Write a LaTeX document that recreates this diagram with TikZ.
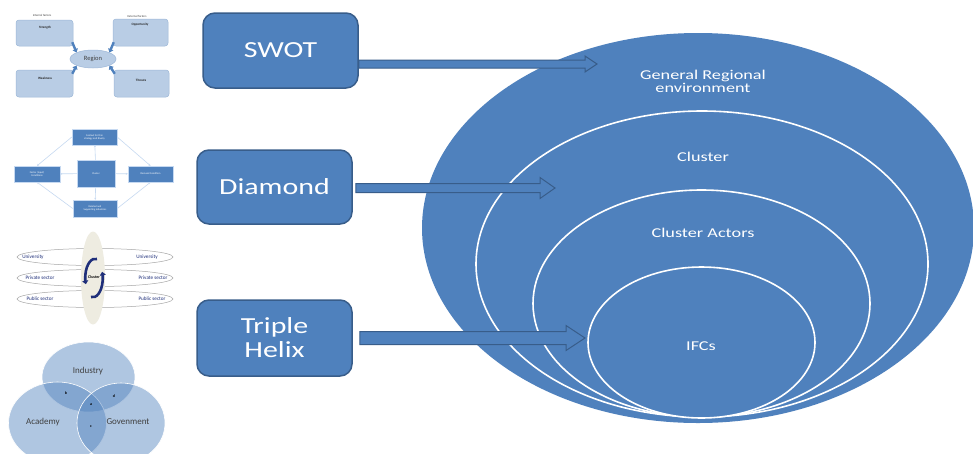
\documentclass[tikz,border=0pt]{standalone}
\usepackage{fontspec}
\setmainfont{Carlito}
\usetikzlibrary{calc,arrows.meta,shapes.geometric}

\definecolor{accent}{HTML}{4F81BD}
\definecolor{accentdark}{HTML}{385D8A}
\definecolor{paleblue}{HTML}{B9CDE5}
\definecolor{paleedge}{HTML}{9DB7D8}
\definecolor{lightline}{HTML}{C6D9F1}
\definecolor{beige}{HTML}{EEECE1}
\definecolor{navy}{HTML}{1F2F7A}
\definecolor{inkgray}{HTML}{404040}

% horizontally widened text
\newcommand\wide[1]{\scalebox{1.3}[1]{#1}}
\newcommand\widerr[1]{\scalebox{1.35}[1]{#1}}

% block arrow: from, tip, shaft half-width, head half-width, head length
\newcommand\blockarrow[5]{%
  \draw[blockarr] ($(#1)+(0,-#3)$) -- ($(#2)+(-#5,-#3)$) -- ($(#2)+(-#5,-#4)$)
    -- (#2) -- ($(#2)+(-#5,#4)$) -- ($(#2)+(-#5,#3)$) -- ($(#1)+(0,#3)$) -- cycle;}

\tikzset{
  toolbox/.style={draw=accentdark, line width=1.5pt, fill=accent, rounded corners=12pt,
    text=white, inner sep=0pt, align=center, font=\fontsize{23}{25}\selectfont},
  outerring/.style={ellipse, fill=accent, inner sep=0pt},
  ring/.style={ellipse, draw=white, line width=1.6pt, fill=accent, inner sep=0pt},
  ringlabel/.style={text=white, align=center, inner sep=0pt, font=\fontsize{13.5}{13}\selectfont},
  blockarr/.style={fill=accent, draw=accentdark, line width=1pt, line join=miter},
  % thumbnails
  tiny/.style={inner sep=0pt, font=\fontsize{3}{3.5}\selectfont},
  swotbox/.style={draw=paleedge, line width=0.5pt, fill=paleblue, rounded corners=3pt, inner sep=0pt},
  swotlabel/.style={inner sep=0pt, text=black!85, font=\fontsize{3.3}{4}\selectfont\bfseries},
  swotarr/.style={draw=accent, line width=2.4pt, -{Triangle[length=3.5pt,width=5.5pt]}},
  dbox/.style={draw=lightline, line width=0.4pt, fill=accent, inner sep=0.5pt, text=white,
    align=center, font=\fontsize{2.6}{3}\selectfont},
  dlink/.style={draw=lightline, line width=0.6pt, -{Stealth[length=2pt,width=2pt]}},
  band/.style={ellipse, draw=gray!70, line width=0.5pt, fill=white, inner sep=0pt},
  bandtext/.style={text=navy, inner sep=0pt, font=\fontsize{5.2}{6}\selectfont},
  cyc/.style={draw=navy, line width=2.6pt, -{Triangle[length=3.5pt,width=6pt]}},
  venn/.style={ellipse, fill=accent, fill opacity=0.45, draw=white, line width=0.6pt, inner sep=0pt},
  venntext/.style={text=inkgray, inner sep=0pt, font=\fontsize{9}{10}\selectfont},
  vennmark/.style={text=black, inner sep=0pt, font=\fontsize{4}{4}\selectfont\bfseries},
}

\begin{document}
\begin{tikzpicture}[x=1pt,y=-1pt]
\useasboundingbox[fill=white] (0,0) rectangle (973,453);

% ---------- nested environment rings ----------
\node[outerring, minimum width=552pt, minimum height=390pt] (env) at (698,228) {};
\node[ring, minimum width=452pt, minimum height=306pt] (clu) at (702,264) {};
\node[ring, minimum width=337pt, minimum height=227pt] (act) at (701.5,303.5) {};
\node[ring, minimum width=227pt, minimum height=151pt] (ifc) at (701.5,342.5) {};

\node[ringlabel] (envt) at (703,81) {\widerr{General Regional}\\\widerr{environment}};
\node[ringlabel] (clut) at (703,157) {\widerr{Cluster}};
\node[ringlabel] (actt) at (703,233) {\widerr{Cluster Actors}};
\node[ringlabel] (ifct) at (701,346) {\widerr{IFCs}};

% ---------- analysis tools ----------
\node[toolbox, minimum width=155pt, minimum height=75pt] (swot) at (280.5,50.5) {\wide{SWOT}};
\node[toolbox, minimum width=155pt, minimum height=74pt] (diam) at (274.5,187) {\wide{Diamond}};
\node[toolbox, minimum width=155pt, minimum height=76pt] (helix) at (274.5,338) {\wide{Triple}\\[-1pt]\wide{Helix}};

\coordinate (s1) at ($(swot.east)+(0,13.5)$);
\coordinate (t1) at (597,64);
\coordinate (s2) at ($(diam.east)+(3,1)$);
\coordinate (t2) at (555,188);
\coordinate (s3) at ($(helix.east)+(7,0)$);
\coordinate (t3) at (585,338);
\blockarrow{s1}{t1}{4}{8}{12}
\blockarrow{s2}{t2}{4.5}{10.5}{15}
\blockarrow{s3}{t3}{6.5}{12.5}{19}

% ---------- SWOT thumbnail ----------
\node[tiny, text=inkgray] (intf) at (42,15) {Internal factors};
\node[tiny, text=inkgray] (extf) at (137,16) {External factors};
\node[swotbox, minimum width=57pt, minimum height=26pt] (str) at (44.5,33) {};
\node[swotbox, minimum width=55pt, minimum height=27pt] (opp) at (140.5,32.5) {};
\node[swotbox, minimum width=57pt, minimum height=27pt] (wea) at (44.5,83.5) {};
\node[swotbox, minimum width=55pt, minimum height=27pt] (thr) at (141.5,83.5) {};
\node[swotlabel] (strt) at (45,28) {Strength};
\node[swotlabel] (oppt) at (140,25) {Opportunity};
\node[swotlabel] (weat) at (45,78) {Weakness};
\node[swotlabel] (thrt) at (141,80) {Threats};
\node[ellipse, fill=paleblue, draw=paleedge, line width=0.5pt, inner sep=0pt,
      minimum width=46pt, minimum height=18pt, text=inkgray, font=\fontsize{6.5}{7}\selectfont] (reg) at (93,59) {Region};
\draw[swotarr] ($(str.south east)+(-1,-4)$) -- (reg.north west);
\draw[swotarr] ($(opp.south west)+(1,-4)$) -- (reg.north east);
\draw[swotarr] ($(wea.north east)+(-1,4)$) -- (reg.south west);
\draw[swotarr] ($(thr.north west)+(1,4)$) -- (reg.south east);

% ---------- Diamond thumbnail ----------
\node[dbox, minimum width=45pt, minimum height=16pt] (dtop) at (94.5,137) {Context for firm\\strategy and Rivalry};
\node[dbox, minimum width=46pt, minimum height=16pt] (dleft) at (37,174) {Factor (Input)\\Conditions};
\node[dbox, minimum width=38pt, minimum height=27pt] (dmid) at (96,173.5) {Cluster};
\node[dbox, minimum width=45pt, minimum height=16pt] (dright) at (150.5,174) {Demand Condition};
\node[dbox, minimum width=44pt, minimum height=17pt] (dbot) at (95,208.5) {Related and\\Supporting Industries};
\draw[dlink] (dmid) -- (dtop);
\draw[dlink] (dmid) -- (dleft);
\draw[dlink] (dmid) -- (dright);
\draw[dlink] (dmid) -- (dbot);
\draw[dlink] (dtop.west) -- (dleft.north);
\draw[dlink] (dtop.east) -- (dright.north);
\draw[dlink] (dbot.west) -- (dleft.south);
\draw[dlink] (dbot.east) -- (dright.south);

% ---------- Helix thumbnail ----------
\node[band, minimum width=156pt, minimum height=17pt] (b1) at (95,257) {};
\node[band, minimum width=156pt, minimum height=17pt] (b2) at (95,278) {};
\node[band, minimum width=156pt, minimum height=17pt] (b3) at (95,299) {};
\node[ellipse, fill=beige, inner sep=0pt, minimum width=24pt, minimum height=93pt] (hub) at (93,278) {};
\node[bandtext] (u1) at (33,257) {University};
\node[bandtext] (u2) at (147,257) {University};
\node[bandtext] (p1) at (40,278) {Private sector};
\node[bandtext] (p2) at (153,278) {Private sector};
\node[bandtext] (q1) at (40,299) {Public sector};
\node[bandtext] (q2) at (152,299) {Public sector};
\coordinate (cyca) at (97,259);
\coordinate (cycb) at (91,297);
\draw[cyc] (cyca) arc[start angle=80, end angle=200, x radius=10pt, y radius=19pt];
\draw[cyc] (cycb) arc[start angle=260, end angle=380, x radius=10pt, y radius=19pt];
\node[inner sep=0.4pt, fill=beige, text=black, font=\fontsize{4}{4}\selectfont\bfseries] (hubt) at (94,277) {Cluster};

% ---------- Venn thumbnail ----------
\node[venn, minimum width=93pt, minimum height=70pt] (ind) at (88.5,377) {};
\node[venn, minimum width=98pt, minimum height=82pt] (aca) at (57.5,423) {};
\node[venn, minimum width=88pt, minimum height=80pt] (gov) at (121,423) {};
\node[venntext] (indt) at (88,371) {Industry};
\node[venntext] (acat) at (43,422) {Academy};
\node[venntext] (govt) at (128,422) {Govenment};
\node[vennmark] (mb) at (66,393) {b};
\node[vennmark] (ma) at (91,405) {a};
\node[vennmark] (md) at (114,396) {d};
\node[vennmark] (mc) at (91,427) {c};
\end{tikzpicture}
\end{document}
